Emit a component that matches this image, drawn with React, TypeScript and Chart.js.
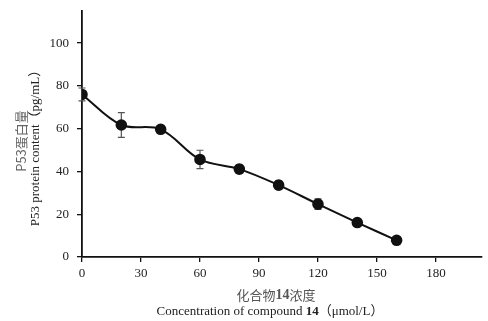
import React, { useEffect, useRef } from "react";
import { Chart, registerables } from "chart.js";

Chart.register(...registerables);

const concentrations = [0, 20, 40, 60, 80, 100, 120, 140, 160];
const p53Values = [76, 61.7, 59.7, 45.6, 41.1, 33.6, 24.7, 16.1, 7.8];
const errorValues = [3, 5.8, 1.5, 4.3, 2, 2, 2.5, 1.2, 1];
const xTickValues = [0, 30, 60, 90, 120, 150, 180];
const yTickValues = [0, 20, 40, 60, 80, 100];
const yTitleCn = "P53蛋白量";
const yTitleEn = "P53 protein content（pg/mL）";
const xTitleCnParts = [
  { t: "化合物", bold: false },
  { t: "14", bold: true },
  { t: "浓度", bold: false },
];
const xTitleEnParts = [
  { t: "Concentration of compound ", bold: false },
  { t: "14", bold: true },
  { t: "（μmol/L）", bold: false },
];

const SERIF = "'Liberation Serif', 'Noto Sans CJK SC', serif";
const CJK = "'Noto Sans CJK SC', 'Liberation Serif', serif";

const errorBarPlugin = {
  id: "errorBars",
  beforeDatasetsDraw(chart: any) {
    const ctx = chart.ctx;
    const xs = chart.scales.x;
    const ys = chart.scales.y;
    ctx.save();
    ctx.strokeStyle = "#555";
    ctx.lineWidth = 1.2;
    concentrations.forEach((c, i) => {
      const px = xs.getPixelForValue(c);
      const top = ys.getPixelForValue(p53Values[i] + errorValues[i]);
      const bot = ys.getPixelForValue(p53Values[i] - errorValues[i]);
      ctx.beginPath();
      ctx.moveTo(px, top);
      ctx.lineTo(px, bot);
      ctx.moveTo(px - 3.5, top);
      ctx.lineTo(px + 3.5, top);
      ctx.moveTo(px - 3.5, bot);
      ctx.lineTo(px + 3.5, bot);
      ctx.stroke();
    });
    ctx.restore();
  },
};

function drawParts(ctx: any, parts: any[], cx: number, cy: number, font: (b: boolean) => string) {
  let total = 0;
  parts.forEach((p) => {
    ctx.font = font(p.bold);
    total += ctx.measureText(p.t).width;
  });
  let x = cx - total / 2;
  ctx.textBaseline = "middle";
  ctx.textAlign = "left";
  parts.forEach((p) => {
    ctx.font = font(p.bold);
    ctx.fillText(p.t, x, cy);
    x += ctx.measureText(p.t).width;
  });
}

const titlesPlugin = {
  id: "titles",
  afterDraw(chart: any) {
    const ctx = chart.ctx;
    ctx.save();
    ctx.fillStyle = "#555";
    drawParts(ctx, xTitleCnParts, 276, 295, (b) => (b ? `bold 14px ${SERIF}` : `13px ${CJK}`));
    ctx.fillStyle = "#222";
    drawParts(ctx, xTitleEnParts, 270, 312, (b) => (b ? `bold 13px ${SERIF}` : `13px ${SERIF}`));
    ctx.save();
    ctx.translate(21, 141);
    ctx.rotate(-Math.PI / 2);
    ctx.fillStyle = "#666";
    ctx.textAlign = "center";
    ctx.textBaseline = "middle";
    ctx.font = `13px ${CJK}`;
    ctx.fillText(yTitleCn, 0, 0);
    ctx.restore();
    ctx.save();
    ctx.translate(36, 145);
    ctx.rotate(-Math.PI / 2);
    ctx.fillStyle = "#222";
    ctx.textAlign = "center";
    ctx.textBaseline = "middle";
    ctx.font = `13px ${SERIF}`;
    ctx.fillText(yTitleEn, 0, 0);
    ctx.restore();
    ctx.restore();
  },
};

export default function App() {
  const ref = useRef<HTMLCanvasElement | null>(null);
  useEffect(() => {
    if (!ref.current) return;
    const chart = new Chart(ref.current, {
      type: "line",
      data: {
        datasets: [
          {
            data: concentrations.map((c, i) => ({ x: c, y: p53Values[i] })),
            borderColor: "#111",
            backgroundColor: "#111",
            borderWidth: 2,
            pointRadius: 4.8,
            pointBackgroundColor: "#111",
            pointBorderColor: "#111",
            tension: 0.35,
          },
        ],
      },
      options: {
        animation: false,
        responsive: false,
        maintainAspectRatio: false,
        layout: { padding: { top: 11, right: 1, left: 0, bottom: 0 } },
        plugins: { legend: { display: false }, tooltip: { enabled: false } },
        scales: {
          x: {
            type: "linear",
            min: 0,
            max: 203,
            afterBuildTicks: (s: any) => {
              s.ticks = xTickValues.map((v) => ({ value: v }));
            },
            afterFit: (s: any) => {
              s.height = 64;
              s.paddingLeft = 0;
              s.paddingRight = 0;
            },
            grid: { drawOnChartArea: false, drawTicks: true, tickLength: 5, color: "#111", lineWidth: 1.3 },
            border: { color: "#111", width: 1.8 },
            ticks: { color: "#222", font: { family: SERIF, size: 13 }, padding: 4, maxRotation: 0 },
          },
          y: {
            type: "linear",
            min: 0,
            max: 115,
            afterBuildTicks: (s: any) => {
              s.ticks = yTickValues.map((v) => ({ value: v }));
            },
            afterFit: (s: any) => {
              s.width = 82;
              s.paddingTop = 0;
              s.paddingBottom = 0;
            },
            grid: { drawOnChartArea: false, drawTicks: true, tickLength: 5, color: "#111", lineWidth: 1.3 },
            border: { color: "#111", width: 1.8 },
            ticks: { color: "#222", font: { family: SERIF, size: 13 }, padding: 8 },
          },
        },
      },
      plugins: [errorBarPlugin, titlesPlugin],
    } as any);
    return () => chart.destroy();
  }, []);
  return (
    <div style={{ position: "fixed", left: 0, top: 0, width: 488, height: 321, background: "#fff" }}>
      <canvas ref={ref} width={488} height={321} style={{ width: 488, height: 321 }} />
    </div>
  );
}
